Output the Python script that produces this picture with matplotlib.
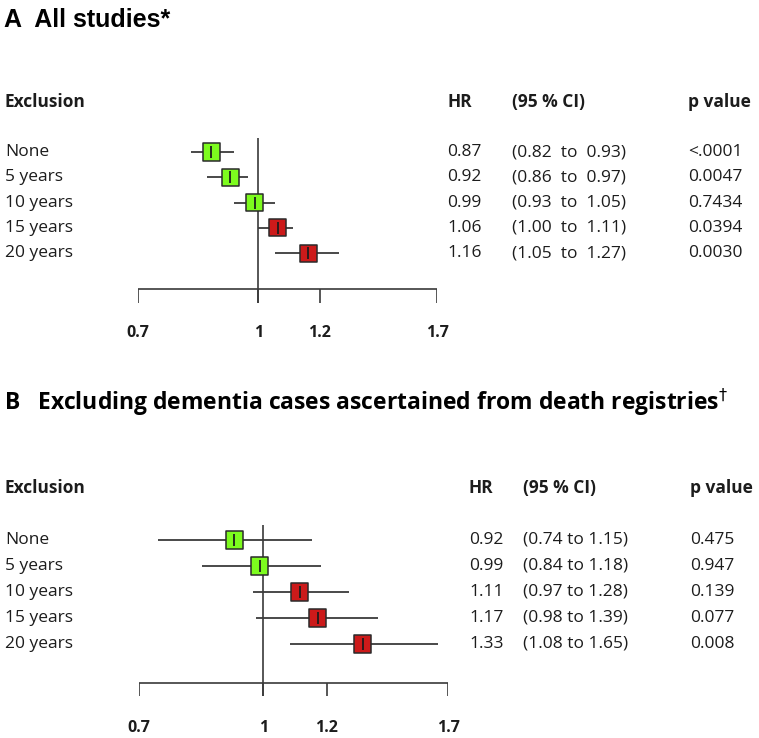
import numpy as np
import matplotlib.pyplot as plt
from matplotlib.transforms import blended_transform_factory

# ------------------ DATA ------------------
rows = ["None", "5 years", "10 years", "15 years", "20 years"]

hr_a = [0.87, 0.92, 0.99, 1.06, 1.16]
lo_a = [0.82, 0.86, 0.93, 1.00, 1.05]
hi_a = [0.93, 0.97, 1.05, 1.11, 1.27]
p_a = ["<.0001", "0.0047", "0.7434", "0.0394", "0.0030"]

hr_b = [0.92, 0.99, 1.11, 1.17, 1.33]
lo_b = [0.74, 0.84, 0.97, 0.98, 1.08]
hi_b = [1.15, 1.18, 1.28, 1.39, 1.65]
p_b = ["0.475", "0.947", "0.139", "0.077", "0.008"]

ticks = [0.7, 1, 1.2, 1.7]
tick_labels = ["0.7", "1", "1.2", "1.7"]

# ------------------ STYLE ------------------
W, H = 759, 738
GREEN = "#7dfb1e"
RED = "#cc1a1a"
DARK = "#1c1c1c"
LINE = "#3a3a3a"
FONT = "Open Sans"

fig = plt.figure(figsize=(W / 100, H / 100), dpi=100)


def px_x(x):
    return x / W


def draw_panel(x0, x1, top, bottom, row0, step, hr, lo, hi, pvals,
               col_hr, col_ci, col_p, ci_fmt, axis_px, tickbot_px,
               reftop_px, label_px, header_px):
    ax = fig.add_axes([px_x(x0), 1 - bottom / H, (x1 - x0) / W, (bottom - top) / H])
    ax.set_xscale("log")
    ax.set_xlim(ticks[0], ticks[-1])
    to_row = lambda p: (p - row0) / step
    ax.set_ylim(to_row(bottom), to_row(top))
    ax.axis("off")

    y = np.arange(len(rows))
    # reference line and axis
    ax.vlines(1, to_row(reftop_px), to_row(tickbot_px), color=LINE, lw=1.2, zorder=1)
    ax.hlines(to_row(axis_px), ticks[0], ticks[-1], color=LINE, lw=1.2)
    ax.vlines(ticks, to_row(axis_px), to_row(tickbot_px), color=LINE, lw=1.2)
    for t, lab in zip(ticks, tick_labels):
        ax.text(t, to_row(label_px), lab, ha="center", va="center",
                fontsize=11.5, fontweight="bold", color=DARK, family=FONT)

    # CI lines and boxes
    ax.hlines(y, lo, hi, color=LINE, lw=1.3, zorder=2)
    colors = [GREEN if h < 1 else RED for h in hr]
    ax.scatter(hr, y, s=150, marker="s", c=colors, edgecolors="#2a2a2a",
               linewidths=1.1, zorder=3)
    ax.scatter(hr, y, s=70, marker="|", c=DARK, linewidths=1.3, zorder=4)

    # text columns
    tr = blended_transform_factory(fig.transFigure, ax.transData)
    kw = dict(transform=tr, va="center", fontsize=12.5, color=DARK, family=FONT)
    hy = to_row(header_px)
    ax.text(px_x(5), hy, "Exclusion", fontweight="bold", **kw)
    ax.text(px_x(col_hr), hy, "HR", fontweight="bold", **kw)
    ax.text(px_x(col_ci), hy, "(95 % CI)", fontweight="bold", **kw)
    ax.text(px_x(col_p), hy, "p value", fontweight="bold", **kw)
    for i, name in enumerate(rows):
        ax.text(px_x(5), i, name, **kw)
        ax.text(px_x(col_hr), i, f"{hr[i]:.2f}", **kw)
        ax.text(px_x(col_ci), i, ci_fmt.format(lo[i], hi[i]), **kw)
        ax.text(px_x(col_p), i, pvals[i], **kw)
    return ax


# ------------------ PANEL A ------------------
fig.text(px_x(4), 1 - 20 / H, "A  All studies*", fontsize=18, fontweight="bold",
         family="Liberation Sans", va="center", color="black")
draw_panel(138, 437, 90, 350, 152, 25.3, hr_a, lo_a, hi_a, p_a,
           447, 512, 688, "({:.2f}  to  {:.2f})",
           axis_px=289, tickbot_px=303, reftop_px=138, label_px=333, header_px=102)

# ------------------ PANEL B ------------------
fig.text(px_x(4), 1 - 402 / H,
         "B   Excluding dementia cases ascertained from death registries$^{\\dagger}$",
         fontsize=16.5, fontweight="bold", family=FONT, va="center", color="black")
draw_panel(139, 448, 475, 738, 540, 26, hr_b, lo_b, hi_b, p_b,
           469, 523, 690, "({:.2f} to {:.2f})",
           axis_px=683, tickbot_px=696, reftop_px=525, label_px=728, header_px=488)

fig.savefig("out.png", dpi=100)
